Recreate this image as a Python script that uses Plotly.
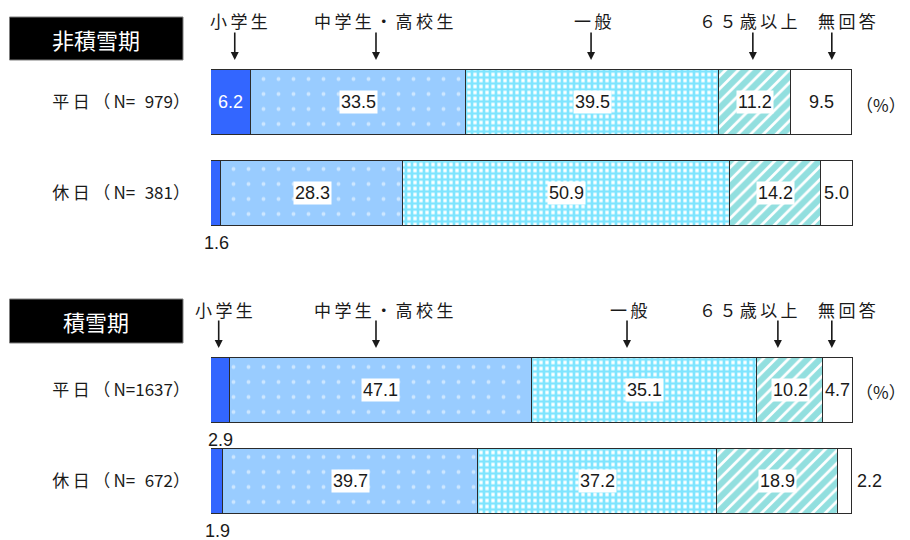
import plotly.graph_objects as go

# ---- data -------------------------------------------------------------
categories = ["小学生", "中学生・高校生", "一般", "６５歳以上", "無回答"]
periods = ["非積雪期", "積雪期"]
row_labels_non_snow = ["平日（N=\u2007979）", "休日（N=\u2007381）"]
row_labels_snow = ["平日（N=1637）", "休日（N=\u2007672）"]

non_snow_weekday = [6.2, 33.5, 39.5, 11.2, 9.5]
non_snow_holiday = [1.6, 28.3, 50.9, 14.2, 5.0]
snow_weekday = [2.9, 47.1, 35.1, 10.2, 4.7]
snow_holiday = [1.9, 39.7, 37.2, 18.9, 2.2]

# ---- page geometry ----------------------------------------------------
W, H = 910, 540
X0, X1 = 211, 853          # plot area left / right (px)


def px(x):
    return x / W


def py(y):
    return 1 - y / H


JP = "Noto Sans CJK JP"
NUM = "Liberation Sans, Arial"
INK = "#1a1a1a"
EDGE = "#2b2b2b"
NUM_SIZE = 18


def spread(s):
    """Put a thin space after each wide character."""
    out = ""
    for i, ch in enumerate(s):
        out += ch
        if ord(ch) > 0x3000 and i < len(s) - 1:
            out += "\u2009"
    return out


# fill styles per category
styles = [
    dict(color="#3366FF"),
    dict(color="#99CCFF",
         pattern=dict(shape=".", fgcolor="#FFFFFF", bgcolor="#99CCFF",
                      size=15, solidity=0.05, fillmode="overlay")),
    dict(color="#FFFFFF",
         pattern=dict(shape="+", fgcolor="#00CCFF", bgcolor="#FFFFFF",
                      size=6, solidity=0.7, fillmode="overlay")),
    dict(color="#FFFFFF",
         pattern=dict(shape="/", fgcolor="#26BFBF", bgcolor="#FFFFFF",
                      size=9, solidity=0.7, fillmode="overlay")),
    dict(color="#FFFFFF"),
]

panels = [
    dict(rows=[non_snow_weekday, non_snow_holiday], labels=row_labels_non_snow,
         xa="x", ya="y", dom=(56.5, 238.5)),
    dict(rows=[snow_weekday, snow_holiday], labels=row_labels_snow,
         xa="x2", ya="y2", dom=(344.5, 526.5)),
]

BAR_W = 0.71
fig = go.Figure()

for p in panels:
    for ci, cat in enumerate(categories):
        fig.add_trace(go.Bar(
            orientation="h",
            y=[0, 1],
            x=[p["rows"][0][ci], p["rows"][1][ci]],
            name=cat,
            width=BAR_W,
            marker=dict(**styles[ci], line=dict(color=EDGE, width=1)),
            xaxis=p["xa"], yaxis=p["ya"],
            showlegend=False,
            hoverinfo="skip",
        ))

annotations = []
shapes = []

# value labels, placed from the cumulative data
for p in panels:
    for ri, vals in enumerate(p["rows"]):
        start = 0.0
        for ci, v in enumerate(vals):
            centre = start + v / 2
            txt = f"{v:.1f}"
            base = dict(xref=p["xa"], yref=p["ya"], showarrow=False,
                        xanchor="center", yanchor="middle",
                        font=dict(family=NUM, size=NUM_SIZE, color=INK))
            if ci == 0:
                if v >= 4:
                    annotations.append(dict(base, x=centre, y=ri, text=txt,
                                            font=dict(family=NUM, size=NUM_SIZE,
                                                      color="#FFFFFF")))
                else:
                    annotations.append(dict(base, x=centre, y=ri + BAR_W / 2, text=txt,
                                            yanchor="top", yshift=-6))
            elif ci < 4:
                annotations.append(dict(base, x=centre, y=ri, text=txt,
                                        bgcolor="#FFFFFF", borderpad=1))
            else:
                if v >= 4:
                    annotations.append(dict(base, x=centre, y=ri, text=txt))
                else:
                    annotations.append(dict(base, x=start + v, y=ri, text=txt,
                                            xanchor="left", xshift=3))
            start += v

# period title boxes
title_boxes = [(9.5, 17, 183, 60), (9.5, 299, 183, 343)]
for name, (bx0, by0, bx1, by1) in zip(periods, title_boxes):
    shapes.append(dict(type="rect", xref="paper", yref="paper",
                       x0=px(bx0), x1=px(bx1), y0=py(by1), y1=py(by0),
                       fillcolor="#000000", line=dict(color="#7f7f7f", width=1)))
    annotations.append(dict(xref="paper", yref="paper", x=px((bx0 + bx1) / 2),
                            y=py((by0 + by1) / 2), text=name, showarrow=False,
                            xanchor="center", yanchor="middle",
                            font=dict(family=JP, size=22, color="#FFFFFF")))

# category headings with arrows pointing down at the bars
heading_x = [
    [239, 383, 592, 748, 847],
    [224, 383, 628, 748, 847],
]
arrow_pct = [
    [3.7, 25.7, 59.2, 84.4, 96.7],
    [1.2, 25.7, 64.8, 88.3, 96.7],
]
heading_y = [21, 309]
arrow_tip = [60, 348]

for pi, p in enumerate(panels):
    for ci, cat in enumerate(categories):
        annotations.append(dict(xref="paper", yref="paper",
                                x=px(heading_x[pi][ci]), y=py(heading_y[pi]),
                                xanchor="center", yanchor="middle",
                                text=spread(cat), showarrow=False,
                                font=dict(family=JP, size=17, color=INK)))
        annotations.append(dict(xref=p["xa"], yref="paper",
                                x=arrow_pct[pi][ci], y=py(arrow_tip[pi]),
                                text="", showarrow=True, ax=0, ay=-29,
                                arrowhead=2, arrowsize=1, arrowwidth=1.6,
                                arrowcolor=INK, standoff=0))
    # unit note
    annotations.append(dict(xref="paper", yref="paper", x=px(881),
                            y=py(104 if pi == 0 else 391), text="（%）",
                            xanchor="center", yanchor="middle",
                            showarrow=False,
                            font=dict(family=JP, size=17, color=INK)))

axis_x = dict(range=[0, 100], domain=[px(X0), px(X1)], visible=False,
              fixedrange=True)


def axis_y(p):
    d0, d1 = p["dom"]
    return dict(range=[1.5, -0.5], domain=[py(d1), py(d0)],
                tickvals=[0, 1], ticktext=[spread(t) for t in p["labels"]],
                ticks="", showgrid=False, zeroline=False, showline=False,
                ticklabelstandoff=20,
                tickfont=dict(family=JP, size=17, color=INK), fixedrange=True)


fig.update_layout(
    width=W, height=H,
    margin=dict(l=0, r=0, t=0, b=0),
    paper_bgcolor="#FFFFFF", plot_bgcolor="rgba(0,0,0,0)",
    barmode="stack", bargap=0,
    xaxis=dict(axis_x, anchor="y"),
    xaxis2=dict(axis_x, anchor="y2"),
    yaxis=dict(axis_y(panels[0]), anchor="x"),
    yaxis2=dict(axis_y(panels[1]), anchor="x2"),
    annotations=annotations,
    shapes=shapes,
    font=dict(family=JP),
)

fig.write_html("out.html")
